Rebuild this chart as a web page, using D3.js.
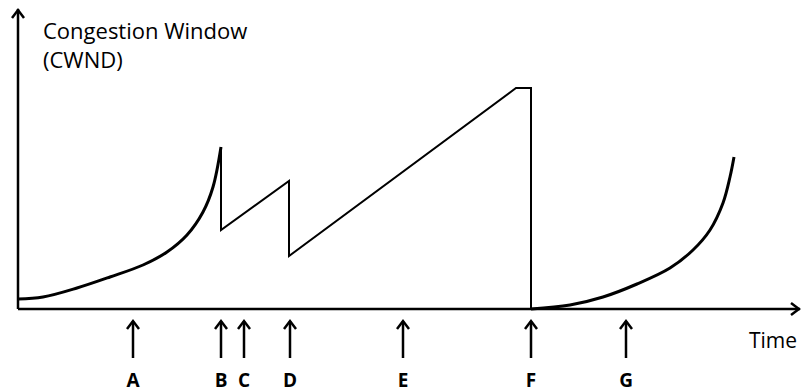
<!DOCTYPE html>
<html>
<head>
<meta charset="utf-8">
<script src="https://cdn.jsdelivr.net/npm/d3@7"></script>
<style>
  body { margin: 0; background: #fff; }
  text { font-family: 'Open Sans', sans-serif; fill: #000; }
</style>
</head>
<body>
<div id="app"></div>
<script>
// slow start phase 1 (time, cwnd)
const SS1_TIME = [0, 25, 59, 92, 125, 149, 169, 185, 195, 203];
const SS1_CWND = [10, 12, 21, 32, 44, 57, 74, 97, 122, 162];

// congestion avoidance / sawtooth corners
const CA_TIME = [203, 203, 271, 271, 498, 513, 513];
const CA_CWND = [162, 79, 128, 53, 221, 221, 0];

// slow start phase 2, after timeout
const SS2_TIME = [513, 552, 585, 619, 652, 675, 692, 705, 712, 716];
const SS2_CWND = [0, 4, 12, 25, 41, 59, 79, 106, 132, 152];

// event markers
const EVENT_LABELS = ['A', 'B', 'C', 'D', 'E', 'F', 'G'];
const EVENT_TIME = [115, 203, 226, 272, 385, 513, 608];

const width = 801;
const height = 392;

const x = d3.scaleLinear().domain([0, 782]).range([18, 800]);
const y = d3.scaleLinear().domain([0, 300]).range([309, 9]);

const svg = d3
  .select('#app')
  .append('svg')
  .attr('width', width)
  .attr('height', height);

const zip = (ts, cs) => ts.map((t, i) => [t, cs[i]]);

const smooth = d3
  .line()
  .x((d) => x(d[0]))
  .y((d) => y(d[1]))
  .curve(d3.curveCatmullRom.alpha(0.5));

const straight = d3
  .line()
  .x((d) => x(d[0]))
  .y((d) => y(d[1]));

// axes
const x0 = x(0);
const y0 = y(0);
svg
  .append('line')
  .attr('x1', x0)
  .attr('y1', y0)
  .attr('x2', x.range()[1])
  .attr('y2', y0)
  .attr('stroke', '#000')
  .attr('stroke-width', 2.5);
svg
  .append('line')
  .attr('x1', x0)
  .attr('y1', y0)
  .attr('x2', x0)
  .attr('y2', y.range()[1])
  .attr('stroke', '#000')
  .attr('stroke-width', 2.5);

const chevron = (px, py, dir) => {
  // dir: 'up' or 'right'
  const a = 6;
  const b = 8;
  const pts =
    dir === 'up'
      ? [[px - a, py + b], [px, py], [px + a, py + b]]
      : [[px - b, py - a], [px, py], [px - b, py + a]];
  svg
    .append('path')
    .attr('d', d3.line()(pts))
    .attr('fill', 'none')
    .attr('stroke', '#000')
    .attr('stroke-width', 2.5)
    .attr('stroke-linejoin', 'miter');
};
chevron(x0, y.range()[1] + 1, 'up');
chevron(x.range()[1] - 1, y0, 'right');

// cwnd trace
svg
  .append('path')
  .attr('d', smooth(zip(SS1_TIME, SS1_CWND)))
  .attr('fill', 'none')
  .attr('stroke', '#000')
  .attr('stroke-width', 3);

svg
  .append('path')
  .attr('d', straight(zip(CA_TIME, CA_CWND)))
  .attr('fill', 'none')
  .attr('stroke', '#000')
  .attr('stroke-width', 2);

svg
  .append('path')
  .attr('d', smooth(zip(SS2_TIME, SS2_CWND)))
  .attr('fill', 'none')
  .attr('stroke', '#000')
  .attr('stroke-width', 3);

// event arrows + labels
const ev = svg
  .selectAll('g.ev')
  .data(EVENT_LABELS.map((l, i) => ({ label: l, t: EVENT_TIME[i] })))
  .enter()
  .append('g')
  .attr('class', 'ev')
  .attr('transform', (d) => `translate(${x(d.t)},0)`);

ev.append('line')
  .attr('x1', 0)
  .attr('x2', 0)
  .attr('y1', 358)
  .attr('y2', 321)
  .attr('stroke', '#000')
  .attr('stroke-width', 2.5);

ev.append('path')
  .attr('d', 'M-6,329L0,321L6,329')
  .attr('fill', 'none')
  .attr('stroke', '#000')
  .attr('stroke-width', 2.5);

ev.append('text')
  .attr('y', 387)
  .attr('text-anchor', 'middle')
  .attr('font-weight', 'bold')
  .attr('font-size', 19)
  .text((d) => d.label);

// axis titles
svg
  .append('text')
  .attr('x', 43)
  .attr('y', 39)
  .attr('font-size', 22)
  .text('Congestion Window');
svg
  .append('text')
  .attr('x', 43)
  .attr('y', 68)
  .attr('font-size', 22)
  .text('(CWND)');
svg
  .append('text')
  .attr('x', 749)
  .attr('y', 348)
  .attr('font-size', 21)
  .text('Time');
</script>
</body>
</html>
